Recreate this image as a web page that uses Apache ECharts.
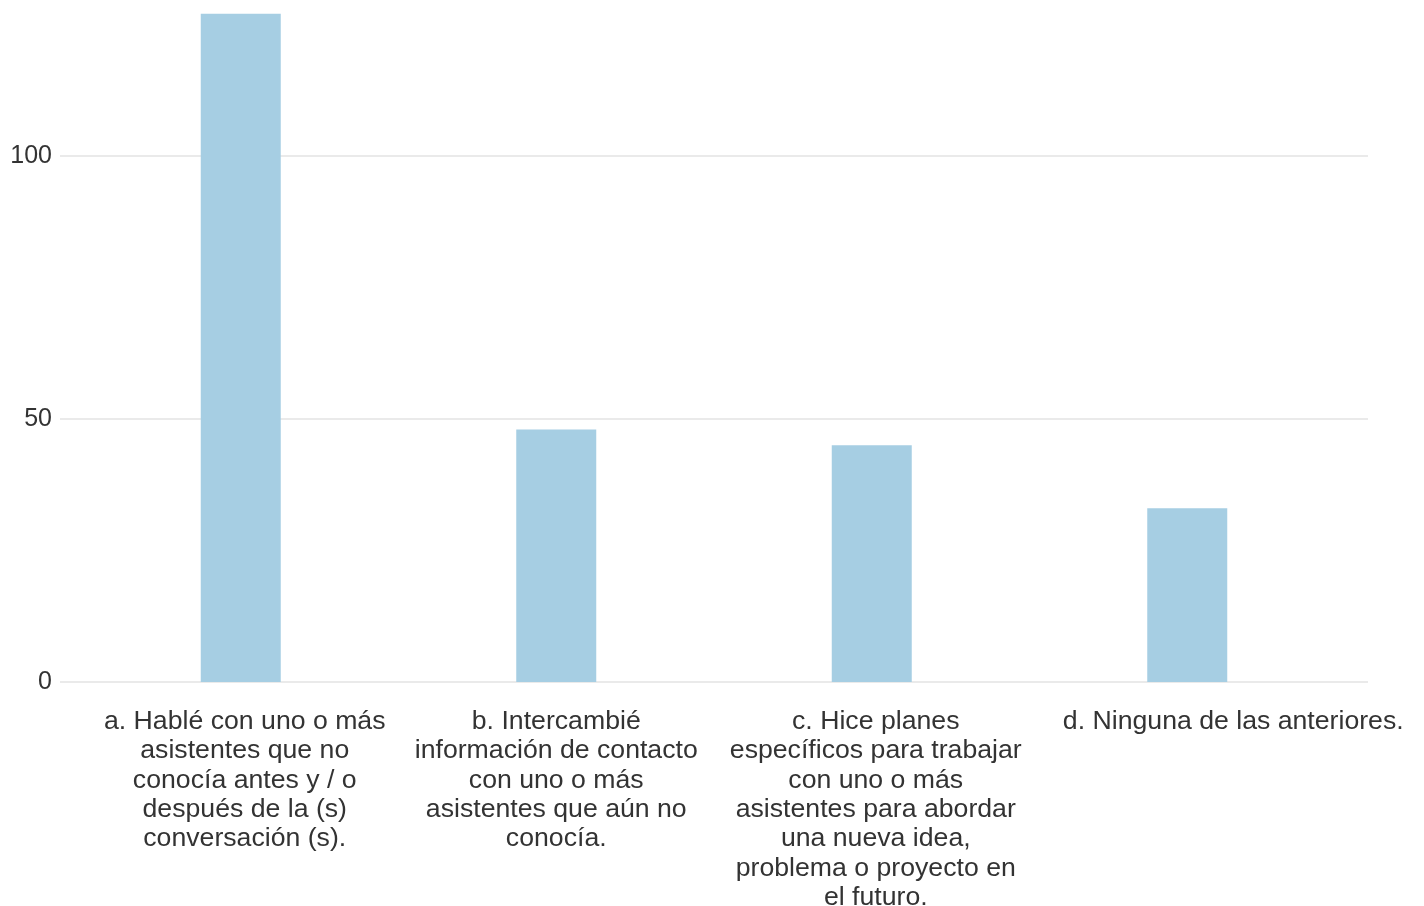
<!DOCTYPE html>
<html>
<head>
<meta charset="utf-8">
<script src="https://cdn.jsdelivr.net/npm/echarts@6/dist/echarts.min.js"></script>
<style>
  html, body { margin: 0; padding: 0; background: #fff; }
  #chart { width: 1424px; height: 906px; }
</style>
</head>
<body>
<div id="chart"></div>
<script>
const categories = [
  'a. Hablé con uno o más\nasistentes que no\nconocía antes y / o\ndespués de la (s)\nconversación (s).',
  'b. Intercambié\ninformación de contacto\ncon uno o más\nasistentes que aún no\nconocía.',
  'c. Hice planes\nespecíficos para trabajar\ncon uno o más\nasistentes para abordar\nuna nueva idea,\nproblema o proyecto en\nel futuro.',
  'd. Ninguna de las anteriores.'
];
const counts = [127, 48, 45, 33];
const yTicks = { min: 0, max: 130, interval: 50 };

const font = 'Liberation Sans, Arial, sans-serif';
const textColor = '#333333';
// the labels in the original sit a little off their bar centres
const labelShift = [8, 0, 8, 92];

const chart = echarts.init(document.getElementById('chart'));

chart.setOption({
  animation: false,
  backgroundColor: '#ffffff',
  grid: [
    // bars
    { left: 83, right: 79, top: -2, bottom: 224, outerBoundsMode: 'none', containLabel: false },
    // gridlines and y labels (wider than the bars grid)
    { left: 60, right: 56, top: -2, bottom: 224, outerBoundsMode: 'none', containLabel: false }
  ],
  xAxis: [
    {
      gridIndex: 0,
      type: 'category',
      data: categories.map((c, i) => ({ value: c, textStyle: { padding: [0, 0, 0, labelShift[i]] } })),
      axisLine: { show: false },
      axisTick: { show: false },
      axisLabel: {
        interval: 0,
        margin: 25,
        color: textColor,
        fontFamily: font,
        fontSize: 26.67,
        lineHeight: 29.33,
        align: 'center'
      }
    },
    {
      gridIndex: 1,
      type: 'value',
      show: false
    }
  ],
  yAxis: [
    {
      gridIndex: 0,
      type: 'value',
      min: yTicks.min,
      max: yTicks.max,
      interval: yTicks.interval,
      show: false
    },
    {
      gridIndex: 1,
      type: 'value',
      min: yTicks.min,
      max: yTicks.max,
      interval: yTicks.interval,
      axisLine: { show: false },
      axisTick: { show: false },
      axisLabel: {
        showMaxLabel: false,
        margin: 8,
        color: textColor,
        fontFamily: font,
        fontSize: 25
      },
      splitLine: { show: true, showMaxLine: false, lineStyle: { color: '#e3e3e3', width: 1.5 } }
    }
  ],
  series: [
    {
      type: 'bar',
      xAxisIndex: 0,
      yAxisIndex: 0,
      data: counts,
      barWidth: 80,
      itemStyle: { color: '#a6cee3' }
    }
  ]
});
</script>
</body>
</html>
